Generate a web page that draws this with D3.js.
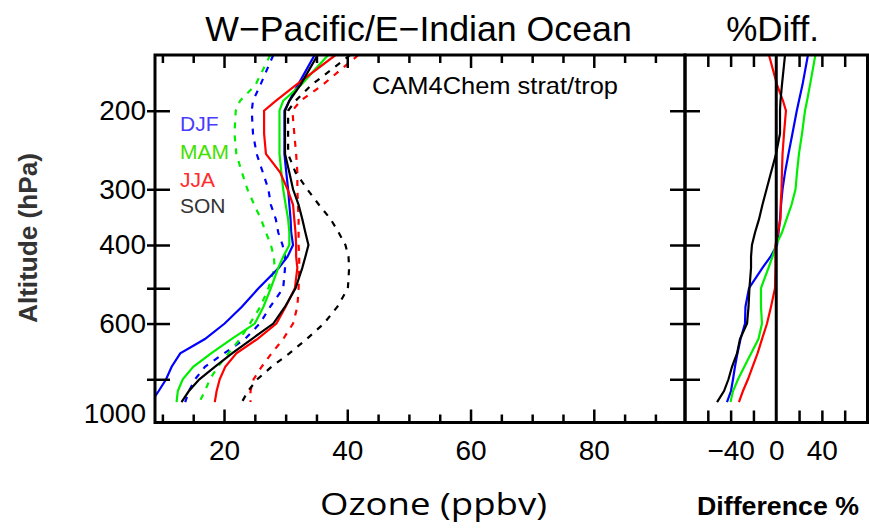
<!DOCTYPE html>
<html>
<head>
<meta charset="utf-8">
<script src="https://cdn.jsdelivr.net/npm/d3@7"></script>
<style>
  body { margin: 0; background: #fff; }
  svg { display: block; font-family: "Liberation Sans", Arial, sans-serif; }
</style>
</head>
<body>
<script>
// pressure levels (hPa) the profiles are read at
const levels = [150, 175, 190, 200, 225, 250, 275, 300, 325, 350, 375, 400, 425, 450, 500, 550, 600, 650, 700, 750, 800, 850, 900];

// ozone (ppbv), model = solid, obs = dashed
const djfModel = [34.7, 32.0, 30.6, 29.8, 29.8, 29.8, 30.1, 30.4, 30.6, 30.8, 30.9, 31.2, 30.3, 28.9, 25.6, 22.9, 20.1, 16.9, 12.9, 11.5, 10.6, 9.4, 8.2];
const mamModel = [36.9, 32.5, 29.6, 29.0, 29.0, 29.0, 29.3, 29.6, 30.0, 30.4, 30.6, 30.6, 29.6, 28.8, 27.6, 26.4, 25.0, 21.2, 17.9, 15.0, 13.3, 12.5, 12.3];
const jjaModel = [38.1, 31.7, 28.4, 26.5, 26.5, 26.8, 29.1, 30.3, 31.2, 31.4, 31.6, 31.7, 31.7, 31.9, 31.5, 30.0, 28.5, 25.4, 22.0, 20.2, 19.3, 18.8, 18.5];
const sonModel = [35.2, 32.4, 30.6, 29.9, 29.9, 29.9, 30.6, 31.2, 32.1, 32.7, 33.2, 33.7, 33.2, 32.7, 31.6, 29.9, 28.0, 24.5, 21.3, 18.5, 16.0, 14.3, 13.1];

const djfObs = [28.0, 25.9, 24.7, 24.5, 24.7, 25.3, 26.3, 27.2, 27.6, 28.4, 28.8, 29.5, 29.9, 29.9, 29.6, 27.5, 25.8, 23.4, 20.0, 16.9, 15.3, 14.3, 13.7];
const mamObs = [27.5, 25.1, 22.6, 21.9, 21.7, 22.0, 22.9, 23.8, 24.9, 26.0, 26.8, 27.6, 28.1, 28.2, 27.2, 25.9, 24.2, 22.6, 20.7, 19.0, 17.7, 16.9, 16.0];
const jjaObs = [41.8, 36.0, 32.4, 31.1, 31.4, 31.7, 31.9, 31.9, 32.0, 32.1, 32.1, 32.1, 32.2, 32.2, 32.1, 31.9, 31.2, 29.6, 27.7, 26.1, 24.8, 24.3, 24.3];
const sonObs = [40.5, 34.2, 31.6, 30.4, 30.4, 30.4, 31.6, 33.5, 35.4, 37.3, 38.6, 39.7, 40.2, 40.3, 40.1, 38.4, 36.2, 33.4, 30.6, 27.7, 25.4, 23.9, 22.9];

// % difference
const djfDiff = [27.8, 23.0, 19.9, 18.0, 14.2, 10.7, 7.7, 5.5, 4.2, 3.3, 2.0, 0.7, -5.0, -12.1, -23.9, -27.0, -27.4, -31.3, -34.0, -36.2, -37.9, -39.7, -43.2];
const mamDiff = [34.3, 29.6, 27.0, 25.2, 22.6, 19.9, 18.2, 16.9, 13.4, 9.0, 5.0, -0.2, -3.3, -6.8, -13.4, -13.4, -12.5, -15.6, -22.1, -28.0, -33.5, -37.9, -40.1];
const jjaDiff = [-6.4, 0.7, 5.9, 8.5, 6.8, 5.5, 5.0, 4.6, 3.9, 3.7, 1.5, -0.7, -0.7, -0.7, -1.1, -4.6, -8.1, -12.5, -16.4, -20.8, -24.8, -29.2, -32.7];
const sonDiff = [7.7, 5.0, 3.7, 3.3, 3.3, -0.2, -4.6, -8.5, -12.1, -15.1, -18.6, -21.3, -22.1, -22.1, -23.5, -24.3, -25.6, -31.8, -34.4, -38.8, -41.9, -45.8, -51.9];

const seasons = ["DJF", "MAM", "JJA", "SON"];
const colors = ["#0000ff", "#00ee00", "#ff0000", "#000000"];
const legendColors = ["#4a3cff", "#44e000", "#ff2a2a", "#333333"];

const ozoneMajor = [20, 40, 60, 80];
const ozoneMinor = [10, 15, 25, 30, 35, 45, 50, 55, 65, 70, 75, 85, 90];
const pressureLabeled = [200, 300, 400, 600, 1000];
const pressureMinor = [500, 800];
const diffTicks = [-60, -40, -20, 20, 40, 60];
const diffLabeled = [-40, 0, 40];

const width = 869, height = 528;
const yTop = 55, yBot = 422.5, xLeft = 155, xMid = 685, xRight = 867.5;

const svg = d3.select("body").append("svg")
    .attr("width", width)
    .attr("height", height);

const x = d3.scaleLinear().domain([8.8, 94.8]).range([xLeft, xMid]);
const xd = d3.scaleLinear().domain([-80, 80]).range([xMid, xRight]);
const y = d3.scaleLog().domain([150, 1000]).range([yTop, yBot]);

// clip areas for the two panels
const defs = svg.append("defs");
defs.append("clipPath").attr("id", "clipL")
    .append("rect").attr("x", xLeft).attr("y", yTop).attr("width", xMid - xLeft).attr("height", yBot - yTop);
defs.append("clipPath").attr("id", "clipR")
    .append("rect").attr("x", xMid).attr("y", yTop).attr("width", xRight - xMid).attr("height", yBot - yTop);

const models = [djfModel, mamModel, jjaModel, sonModel];
const obs = [djfObs, mamObs, jjaObs, sonObs];
const diffs = [djfDiff, mamDiff, jjaDiff, sonDiff];

const lineL = d3.line().x(d => x(d[1])).y(d => y(d[0]));
const lineR = d3.line().x(d => xd(d[1])).y(d => y(d[0]));

const gL = svg.append("g").attr("clip-path", "url(#clipL)");
obs.forEach((vals, i) => {
    gL.append("path")
        .attr("d", lineL(levels.map((p, j) => [p, vals[j]])))
        .attr("fill", "none")
        .attr("stroke", colors[i])
        .attr("stroke-width", 2.2)
        .attr("stroke-dasharray", "6,7");
});
models.forEach((vals, i) => {
    gL.append("path")
        .attr("d", lineL(levels.map((p, j) => [p, vals[j]])))
        .attr("fill", "none")
        .attr("stroke", colors[i])
        .attr("stroke-width", 2.2);
});

const gR = svg.append("g").attr("clip-path", "url(#clipR)");
diffs.forEach((vals, i) => {
    gR.append("path")
        .attr("d", lineR(levels.map((p, j) => [p, vals[j]])))
        .attr("fill", "none")
        .attr("stroke", colors[i])
        .attr("stroke-width", 2.2);
});

// zero line
svg.append("line")
    .attr("x1", xd(0)).attr("x2", xd(0))
    .attr("y1", yTop).attr("y2", yBot)
    .attr("stroke", "#000").attr("stroke-width", 3);

// axes
const noDomain = g => g.select(".domain").remove();
const styleAxis = g => g.attr("font-family", "Liberation Sans, Arial, sans-serif")
    .attr("font-size", 28)
    .call(s => s.selectAll(".tick line").attr("stroke-width", 2.5))
    .call(s => s.selectAll(".tick text").attr("fill", "#000"));

// left panel, x
svg.append("g").attr("transform", `translate(0,${yBot})`)
    .call(d3.axisBottom(x).tickValues(ozoneMajor).tickSize(-13).tickPadding(17.6))
    .call(noDomain).call(styleAxis);
svg.append("g").attr("transform", `translate(0,${yBot})`)
    .call(d3.axisBottom(x).tickValues(ozoneMinor).tickSize(-8).tickFormat(""))
    .call(noDomain).call(styleAxis);
svg.append("g").attr("transform", `translate(0,${yTop})`)
    .call(d3.axisTop(x).tickValues(ozoneMajor).tickSize(-13).tickFormat(""))
    .call(noDomain).call(styleAxis);
svg.append("g").attr("transform", `translate(0,${yTop})`)
    .call(d3.axisTop(x).tickValues(ozoneMinor).tickSize(-8).tickFormat(""))
    .call(noDomain).call(styleAxis);

// left panel, y
const yAxisL = svg.append("g").attr("transform", `translate(${xLeft},0)`)
    .call(d3.axisLeft(y).tickValues(pressureLabeled).tickFormat(d3.format("d")).tickSize(-15).tickPadding(9))
    .call(noDomain).call(styleAxis);
yAxisL.selectAll(".tick line").attr("x1", -8);
yAxisL.selectAll(".tick line").filter(d => d === 1000).remove();
yAxisL.selectAll(".tick text").filter(d => d === 1000).attr("y", -9);
svg.append("g").attr("transform", `translate(${xLeft},0)`)
    .call(d3.axisLeft(y).tickValues(pressureMinor).tickSize(-15).tickFormat(""))
    .call(noDomain).call(styleAxis)
    .selectAll(".tick line").attr("x1", -8);

// shared edge between panels: ticks cross the border
const yTicksAll = [200, 300, 400, 500, 600, 800];
svg.append("g").attr("transform", `translate(${xMid},0)`)
    .call(d3.axisRight(y).tickValues(yTicksAll).tickSize(15).tickFormat(""))
    .call(noDomain).call(styleAxis)
    .selectAll(".tick line").attr("x1", -15);
svg.append("g").attr("transform", `translate(${xRight},0)`)
    .call(d3.axisLeft(y).tickValues(yTicksAll).tickSize(-12).tickFormat(""))
    .call(noDomain).call(styleAxis);

// right panel, x
svg.append("g").attr("transform", `translate(0,${yBot})`)
    .call(d3.axisBottom(xd).tickValues(diffTicks).tickSize(-12).tickFormat(""))
    .call(noDomain).call(styleAxis);
svg.append("g").attr("transform", `translate(0,${yBot})`)
    .call(d3.axisBottom(xd).tickValues(diffLabeled).tickSize(0).tickPadding(17.6).tickFormat(d3.format("d")))
    .call(noDomain).call(styleAxis);
svg.append("g").attr("transform", `translate(0,${yTop})`)
    .call(d3.axisTop(xd).tickValues(diffTicks).tickSize(-12).tickFormat(""))
    .call(noDomain).call(styleAxis);

// frames
svg.append("rect")
    .attr("x", xLeft).attr("y", yTop).attr("width", xMid - xLeft).attr("height", yBot - yTop)
    .attr("fill", "none").attr("stroke", "#000").attr("stroke-width", 3);
svg.append("rect")
    .attr("x", xMid).attr("y", yTop).attr("width", xRight - xMid).attr("height", yBot - yTop)
    .attr("fill", "none").attr("stroke", "#000").attr("stroke-width", 3);

// titles
svg.append("text")
    .attr("x", 418.5).attr("y", 41)
    .attr("text-anchor", "middle")
    .style("font-size", "35.7px")
    .text("W\u2212Pacific/E\u2212Indian Ocean");

svg.append("text")
    .attr("x", 772.5).attr("y", 41)
    .attr("text-anchor", "middle")
    .style("font-size", "35px")
    .text("%Diff.");

svg.append("text")
    .attr("x", 372).attr("y", 94)
    .attr("textLength", 246).attr("lengthAdjust", "spacingAndGlyphs")
    .style("font-size", "24px")
    .text("CAM4Chem strat/trop");

// legend
const legendY = [131, 158.5, 186.5, 213];
seasons.forEach((s, i) => {
    svg.append("text")
        .attr("x", 180).attr("y", legendY[i])
        .attr("fill", legendColors[i])
        .style("font-size", "21px")
        .text(s);
});

// axis titles
svg.append("text")
    .attr("transform", "translate(37,238) rotate(-90)")
    .attr("text-anchor", "middle")
    .attr("fill", "#333")
    .style("font-size", "26px")
    .style("font-weight", "bold")
    .attr("textLength", 170).attr("lengthAdjust", "spacingAndGlyphs")
    .text("Altitude (hPa)");

svg.append("text")
    .attr("x", 320).attr("y", 515)
    .attr("textLength", 227).attr("lengthAdjust", "spacingAndGlyphs")
    .style("font-family", "'Open Sans', sans-serif")
    .style("font-size", "31px")
    .text("Ozone (ppbv)");

svg.append("text")
    .attr("x", 697).attr("y", 515)
    .attr("textLength", 162).attr("lengthAdjust", "spacingAndGlyphs")
    .style("font-size", "25px")
    .style("font-weight", "bold")
    .text("Difference %");
</script>
</body>
</html>
